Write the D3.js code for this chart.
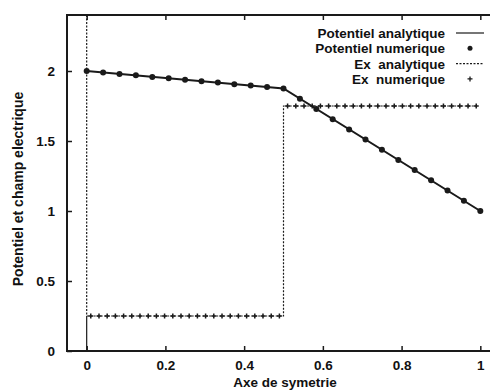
<!DOCTYPE html>
<html>
<head>
<meta charset="utf-8">
<script src="https://cdn.jsdelivr.net/npm/d3@7"></script>
<style>
  html, body { margin: 0; padding: 0; background: #fff; }
  svg { display: block; }
  text { font-family: "Liberation Sans", Arial, sans-serif; font-weight: bold; fill: #111; }
</style>
</head>
<body>
<div id="chart"></div>
<script>
// x positions of the mesh nodes (potential) and the cell centres (field)
const nodeX = [0, 0.0417, 0.0833, 0.125, 0.1667, 0.2083, 0.25, 0.2917, 0.3333, 0.375, 0.4167, 0.4583,
  0.5, 0.5417, 0.5833, 0.625, 0.6667, 0.7083, 0.75, 0.7917, 0.8333, 0.875, 0.9167, 0.9583, 1];
const potentielNum = [2.000, 1.990, 1.979, 1.969, 1.958, 1.948, 1.938, 1.927, 1.917, 1.906, 1.896, 1.885,
  1.875, 1.802, 1.729, 1.656, 1.583, 1.510, 1.438, 1.365, 1.292, 1.219, 1.146, 1.073, 1.000];

const potentielAnaX = [0, 0.5, 1];
const potentielAnaY = [2.0, 1.875, 1.0];

const cellX = [0.0104, 0.0313, 0.0521, 0.0729, 0.0938, 0.1146, 0.1354, 0.1563, 0.1771, 0.1979, 0.2188, 0.2396,
  0.2604, 0.2813, 0.3021, 0.3229, 0.3438, 0.3646, 0.3854, 0.4063, 0.4271, 0.4479, 0.4688, 0.4896,
  0.5104, 0.5313, 0.5521, 0.5729, 0.5938, 0.6146, 0.6354, 0.6563, 0.6771, 0.6979, 0.7188, 0.7396,
  0.7604, 0.7813, 0.8021, 0.8229, 0.8438, 0.8646, 0.8854, 0.9063, 0.9271, 0.9479, 0.9688, 0.9896];
const exNum = [0.25, 0.25, 0.25, 0.25, 0.25, 0.25, 0.25, 0.25, 0.25, 0.25, 0.25, 0.25,
  0.25, 0.25, 0.25, 0.25, 0.25, 0.25, 0.25, 0.25, 0.25, 0.25, 0.25, 0.25,
  1.75, 1.75, 1.75, 1.75, 1.75, 1.75, 1.75, 1.75, 1.75, 1.75, 1.75, 1.75,
  1.75, 1.75, 1.75, 1.75, 1.75, 1.75, 1.75, 1.75, 1.75, 1.75, 1.75, 1.75];

const exAnaX = [0, 0, 0, 0.5, 0.5, 0.99];
const exAnaY = [2.4, 0, 0.25, 0.25, 1.75, 1.75];

const xTicks = [0, 0.2, 0.4, 0.6, 0.8, 1];
const yTicks = [0, 0.5, 1, 1.5, 2];
const legendLabels = ["Potentiel analytique", "Potentiel numerique", "Ex  analytique", "Ex  numerique"];

const width = 490;
const height = 390;
const plotLeft = 67, plotTop = 15, plotRight = 500, plotBottom = 351;
const ink = "#1a1a1a";

const svg = d3.select("#chart")
  .append("svg")
  .attr("width", width)
  .attr("height", height);

const x = d3.scaleLinear().domain([-0.05, 1.05]).range([plotLeft, plotRight]);
const y = d3.scaleLinear().domain([0, 2.4]).range([plotBottom, plotTop]);

// axes, ticks pointing inwards
svg.append("g")
  .attr("transform", `translate(0,${plotBottom})`)
  .call(d3.axisBottom(x).tickValues(xTicks).tickFormat(d3.format("~g")).tickSizeInner(-5).tickSizeOuter(0).tickPadding(9))
  .call(g => g.select(".domain").remove());

svg.append("g")
  .attr("transform", `translate(0,${plotTop})`)
  .call(d3.axisTop(x).tickValues(xTicks).tickFormat("").tickSizeInner(-5).tickSizeOuter(0))
  .call(g => g.select(".domain").remove());

svg.append("g")
  .attr("transform", `translate(${plotLeft},0)`)
  .call(d3.axisLeft(y).tickValues(yTicks).tickFormat(d3.format("~g")).tickSizeInner(-5).tickSizeOuter(0).tickPadding(12))
  .call(g => g.select(".domain").remove());

svg.selectAll(".tick line").attr("stroke", ink).attr("stroke-width", 1.5);
svg.selectAll(".tick text")
  .attr("font-size", 13.5)
  .attr("font-family", "Liberation Sans, Arial, sans-serif")
  .attr("fill", "#111");

// frame
svg.append("rect")
  .attr("x", plotLeft).attr("y", plotTop)
  .attr("width", plotRight - plotLeft).attr("height", plotBottom - plotTop)
  .attr("fill", "none").attr("stroke", ink).attr("stroke-width", 2);

// Ex analytique (dashed)
svg.append("path")
  .datum(exAnaX.map((d, i) => [d, exAnaY[i]]))
  .attr("d", d3.line().x(d => x(d[0])).y(d => y(d[1])))
  .attr("fill", "none")
  .attr("stroke", ink)
  .attr("stroke-width", 1.2)
  .attr("stroke-dasharray", "2,1.5");

// Ex numerique (+)
svg.append("g")
  .selectAll("path")
  .data(cellX.map((d, i) => [d, exNum[i]]))
  .join("path")
  .attr("d", d => `M${x(d[0]) - 2.5},${y(d[1])}h5M${x(d[0])},${y(d[1]) - 2.5}v5`)
  .attr("stroke", ink)
  .attr("stroke-width", 1.5);

// Potentiel analytique (solid)
svg.append("path")
  .datum(potentielAnaX.map((d, i) => [d, potentielAnaY[i]]))
  .attr("d", d3.line().x(d => x(d[0])).y(d => y(d[1])))
  .attr("fill", "none")
  .attr("stroke", ink)
  .attr("stroke-width", 2);

// Potentiel numerique (dots)
svg.append("g")
  .selectAll("circle")
  .data(nodeX.map((d, i) => [d, potentielNum[i]]))
  .join("circle")
  .attr("cx", d => x(d[0]))
  .attr("cy", d => y(d[1]))
  .attr("r", 3)
  .attr("fill", ink);

// axis titles
svg.append("text")
  .attr("x", 285).attr("y", 387)
  .attr("text-anchor", "middle")
  .attr("font-size", 13.5)
  .text("Axe de symetrie");

svg.append("text")
  .attr("transform", "translate(23,189) rotate(-90)")
  .attr("text-anchor", "middle")
  .attr("font-size", 14)
  .text("Potentiel et champ electrique");

// legend
const legend = svg.append("g");
legendLabels.forEach((label, i) => {
  const ly = 33 + i * 15.3;
  legend.append("text")
    .attr("x", 445).attr("y", ly + 5)
    .attr("text-anchor", "end")
    .attr("font-size", 13.5)
    .style("white-space", "pre")
    .text(label);
  if (i === 0) {
    legend.append("line").attr("x1", 456).attr("x2", 484).attr("y1", ly).attr("y2", ly)
      .attr("stroke", ink).attr("stroke-width", 1.2);
  } else if (i === 1) {
    legend.append("circle").attr("cx", 470).attr("cy", ly).attr("r", 2.5).attr("fill", ink);
  } else if (i === 2) {
    legend.append("line").attr("x1", 456).attr("x2", 484).attr("y1", ly).attr("y2", ly)
      .attr("stroke", ink).attr("stroke-width", 1.2).attr("stroke-dasharray", "2,1.5");
  } else {
    legend.append("path").attr("d", `M467.5,${ly}h5M470,${ly - 2.5}v5`)
      .attr("stroke", ink).attr("stroke-width", 1.3);
  }
});
</script>
</body>
</html>
